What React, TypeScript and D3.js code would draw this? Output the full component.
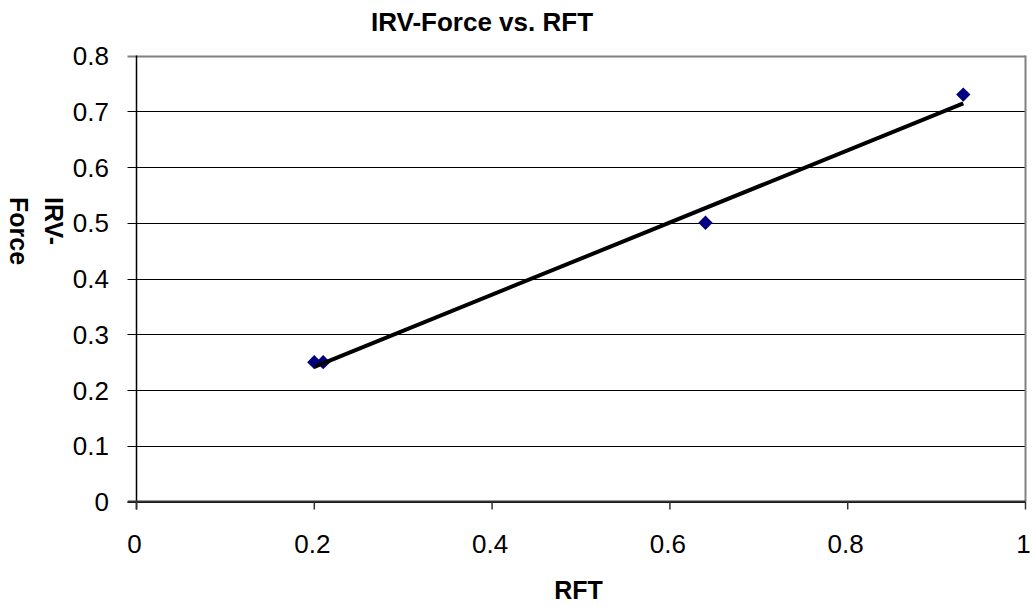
import React from "react";
import * as d3 from "d3";

const rft = [0.2, 0.21, 0.64, 0.93];
const irvForce = [0.25, 0.25, 0.5, 0.73];
const xTicks = [0, 0.2, 0.4, 0.6, 0.8, 1];
const yTicks = [0, 0.1, 0.2, 0.3, 0.4, 0.5, 0.6, 0.7, 0.8];

const W = 1034, H = 608;
const L = 136.5, R = 1025.5, T = 55.5, B = 501.5;
const font = "'Liberation Sans', Arial, sans-serif";

export default function App() {
  const x = d3.scaleLinear().domain([0, 1]).range([L, R]);
  const y = d3.scaleLinear().domain([0, 0.8]).range([B, T]);

  const mx = d3.mean(rft)!, my = d3.mean(irvForce)!;
  let sxx = 0, sxy = 0;
  rft.forEach((v, i) => { sxx += (v - mx) ** 2; sxy += (v - mx) * (irvForce[i] - my); });
  const slope = sxy / sxx, icpt = my - slope * mx;
  const x0 = d3.min(rft)!, x1 = d3.max(rft)!;
  const line = d3.line<number>().x(d => x(d)).y(d => y(icpt + slope * d));

  const diamond = d3.symbol().type(d3.symbolDiamond2).size(130)() as string;

  return (
    <svg width={W} height={H} style={{ position: "absolute", left: 0, top: 0 }} fontFamily={font}>
      <rect width={W} height={H} fill="#fff" />
      {yTicks.map(t => (
        <line key={"g" + t} x1={L - 9} x2={R} y1={Math.round(y(t)) + 0.5} y2={Math.round(y(t)) + 0.5}
          stroke={t === 0.8 ? "#808080" : "#000"} strokeWidth={t === 0.8 ? 2 : 1} />
      ))}
      <line x1={R} x2={R} y1={T} y2={B} stroke="#808080" strokeWidth={2} />
      <line x1={L} x2={L} y1={T} y2={B + 8} stroke="#000" strokeWidth={1.5} />
      <line x1={L - 9} x2={R} y1={B} y2={B} stroke="#333" strokeWidth={2} />
      {xTicks.map(t => (
        <line key={"xt" + t} x1={x(t)} x2={x(t)} y1={B} y2={B + 8} stroke="#333" strokeWidth={1.5} />
      ))}
      {yTicks.map(t => (
        <text key={"yl" + t} x={109} y={y(t) + 9.5} textAnchor="end" fontSize={26}>{String(t)}</text>
      ))}
      {xTicks.map(t => (
        <text key={"xl" + t} x={x(t) - 2} y={553} textAnchor="middle" fontSize={26}>{String(t)}</text>
      ))}
      {rft.map((v, i) => (
        <path key={"p" + i} d={diamond} transform={`translate(${x(v)},${y(irvForce[i])})`} fill="#000080" />
      ))}
      <path d={line([x0, x1]) as string} stroke="#000" strokeWidth={4} fill="none" />
      <text x={482} y={30.5} textAnchor="middle" fontSize={26} fontWeight="bold">IRV-Force vs. RFT</text>
      <text x={578.5} y={599} textAnchor="middle" fontSize={25} fontWeight="bold">RFT</text>
      <g transform="rotate(90)">
        <text x={197} y={-45} textAnchor="start" fontSize={25} fontWeight="bold">IRV-</text>
        <text x={197} y={-10} textAnchor="start" fontSize={25} fontWeight="bold">Force</text>
      </g>
    </svg>
  );
}
